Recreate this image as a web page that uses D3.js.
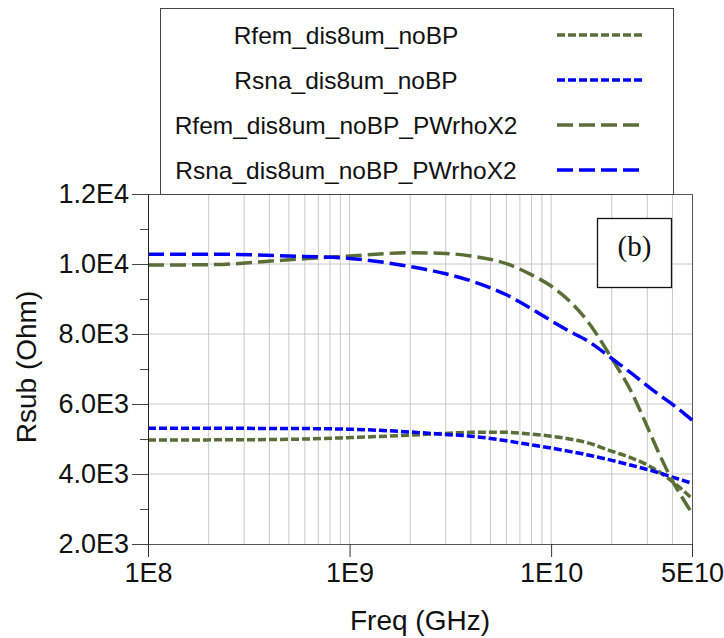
<!DOCTYPE html>
<html><head><meta charset="utf-8">
<script src="https://cdn.jsdelivr.net/npm/d3@7/dist/d3.min.js"></script>
<style>body{margin:0;background:#fff} svg{display:block}</style>
</head><body><svg id="c" width="724" height="638"></svg>
<script>
// ---- data ----
const freqs = [1e8, 2e8, 5e8, 1e9, 2e9, 3e9, 4e9, 6e9, 8e9, 1e10, 1.25e10, 1.5e10, 2e10, 2.5e10, 3e10, 3.5e10, 4e10, 4.5e10, 5e10];
const seriesNames = ["Rfem_dis8um_noBP", "Rsna_dis8um_noBP", "Rfem_dis8um_noBP_PWrhoX2", "Rsna_dis8um_noBP_PWrhoX2"];
const rfemNoBP   = [4970, 4975, 4990, 5040, 5110, 5160, 5190, 5190, 5140, 5080, 4995, 4900, 4650, 4460, 4260, 4030, 3780, 3540, 3300];
const rsnaNoBP   = [5305, 5305, 5300, 5280, 5200, 5130, 5080, 4950, 4830, 4740, 4640, 4550, 4390, 4250, 4130, 4020, 3910, 3820, 3735];
const rfemPW     = [9970, 9980, 10120, 10230, 10320, 10300, 10230, 10010, 9690, 9370, 8910, 8400, 7300, 6350, 5350, 4480, 3800, 3300, 2880];
const rsnaPW     = [10280, 10280, 10230, 10160, 9925, 9720, 9520, 9120, 8720, 8380, 8060, 7820, 7300, 6880, 6520, 6230, 5990, 5760, 5540];
const seriesColors = ["#5a6e37", "#0000ff", "#5a6e37", "#0000ff"];
const seriesDash = ["8,3", "8,3", "16,6", "16,6"];
const yTicks = [2000, 4000, 6000, 8000, 10000, 12000];
const yTickLabels = ["2.0E3", "4.0E3", "6.0E3", "8.0E3", "1.0E4", "1.2E4"];
const yMinorTicks = [3000, 5000, 7000, 9000, 11000];
const xTicks = [1e8, 1e9, 1e10, 5e10];
const xTickLabels = ["1E8", "1E9", "1E10", "5E10"];
const xTitle = "Freq (GHz)";
const yTitle = "Rsub (Ohm)";
const panelLabel = "(b)";

const seriesValues = [rfemNoBP, rsnaNoBP, rfemPW, rsnaPW];

// ---- layout ----
const L = 148, R = 692, T = 194, B = 544;
const svg = d3.select("#c");
const x = d3.scaleLog().domain([1e8, 5e10]).range([L, R]);
const y = d3.scaleLinear().domain([2000, 12000]).range([B, T]);
const font = "Arial, 'Liberation Sans', sans-serif";

// grid: vertical minor/major lines
const vGrid = [];
[1e8, 1e9, 1e10].forEach(d => { for (let k = 1; k <= 9; k++) { const v = d * k; if (v > 1e8 && v < 5e10) vGrid.push(v); } });
svg.append("g").selectAll("line").data(vGrid).join("line")
  .attr("x1", d => x(d)).attr("x2", d => x(d)).attr("y1", T).attr("y2", B)
  .attr("stroke", "#c8c8c8").attr("stroke-width", 1);
svg.append("g").selectAll("line").data(yTicks.filter(v => v > 2000 && v < 12000)).join("line")
  .attr("x1", L).attr("x2", R).attr("y1", d => y(d)).attr("y2", d => y(d))
  .attr("stroke", "#c8c8c8").attr("stroke-width", 1);

// frame
svg.append("line").attr("x1", L).attr("x2", R).attr("y1", T + 0.5).attr("y2", T + 0.5).attr("stroke", "#555");
svg.append("line").attr("x1", R + 0.5).attr("x2", R + 0.5).attr("y1", T).attr("y2", B).attr("stroke", "#555");

// curves
const line = d3.line().x(d => x(d[0])).y(d => y(d[1])).curve(d3.curveMonotoneX);
seriesValues.forEach((vals, i) => {
  svg.append("path").datum(freqs.map((f, j) => [f, vals[j]]))
    .attr("d", line).attr("fill", "none")
    .attr("stroke", seriesColors[i]).attr("stroke-width", 3.5)
    .attr("stroke-dasharray", seriesDash[i]);
});

// y axis
const yAxis = d3.axisLeft(y).tickValues(yTicks).tickFormat((d, i) => yTickLabels[i]).tickSize(16).tickPadding(3);
const gy = svg.append("g").attr("transform", `translate(${L},0)`).call(yAxis);
gy.select(".domain").attr("stroke", "#222");
gy.selectAll(".tick line").attr("stroke", "#444");
gy.selectAll("text").attr("font-family", font).attr("font-size", 27).attr("fill", "#111");
const yMinor = d3.axisLeft(y).tickValues(yMinorTicks).tickFormat("").tickSize(8);
const gym = svg.append("g").attr("transform", `translate(${L},0)`).call(yMinor);
gym.select(".domain").remove();
gym.selectAll(".tick line").attr("stroke", "#444");

// x axis
const xAxis = d3.axisBottom(x).tickValues(xTicks).tickFormat((d, i) => xTickLabels[i]).tickSize(13).tickPadding(6);
const gx = svg.append("g").attr("transform", `translate(0,${B})`).call(xAxis);
gx.select(".domain").attr("stroke", "#555");
gx.selectAll(".tick line").attr("stroke", "#333");
gx.selectAll("text").attr("font-family", font).attr("font-size", 27).attr("fill", "#111");

// titles
svg.append("text").attr("x", (L + R) / 2).attr("y", 630).attr("text-anchor", "middle")
  .attr("font-family", font).attr("font-size", 28).attr("fill", "#111").text(xTitle);
svg.append("text").attr("transform", "translate(36,367) rotate(-90)").attr("text-anchor", "middle")
  .attr("font-family", font).attr("font-size", 28).attr("fill", "#111").text(yTitle);

// panel label box
svg.append("rect").attr("x", 597.5).attr("y", 218.5).attr("width", 74).attr("height", 69)
  .attr("fill", "#fff").attr("stroke", "#111").attr("stroke-width", 1.3);
svg.append("text").attr("x", 634.5).attr("y", 256).attr("text-anchor", "middle")
  .attr("font-family", "'Times New Roman', 'Liberation Serif', serif").attr("font-size", 29).attr("fill", "#111").text(panelLabel);

// legend
const lg = svg.append("g");
lg.append("rect").attr("x", 160.5).attr("y", 8.5).attr("width", 513).attr("height", 186)
  .attr("fill", "#fff").attr("stroke", "#444").attr("stroke-width", 1);
const rowY = i => 35 + 45 * i;
seriesNames.forEach((n, i) => {
  lg.append("text").attr("x", 346).attr("y", rowY(i)).attr("dy", "0.35em").attr("text-anchor", "middle")
    .attr("font-family", font).attr("font-size", 24.5).attr("fill", "#111").text(n);
  lg.append("line").attr("x1", 557).attr("x2", 642).attr("y1", rowY(i)).attr("y2", rowY(i))
    .attr("stroke", seriesColors[i]).attr("stroke-width", 3.5).attr("stroke-dasharray", seriesDash[i]);
});
</script></body></html>
